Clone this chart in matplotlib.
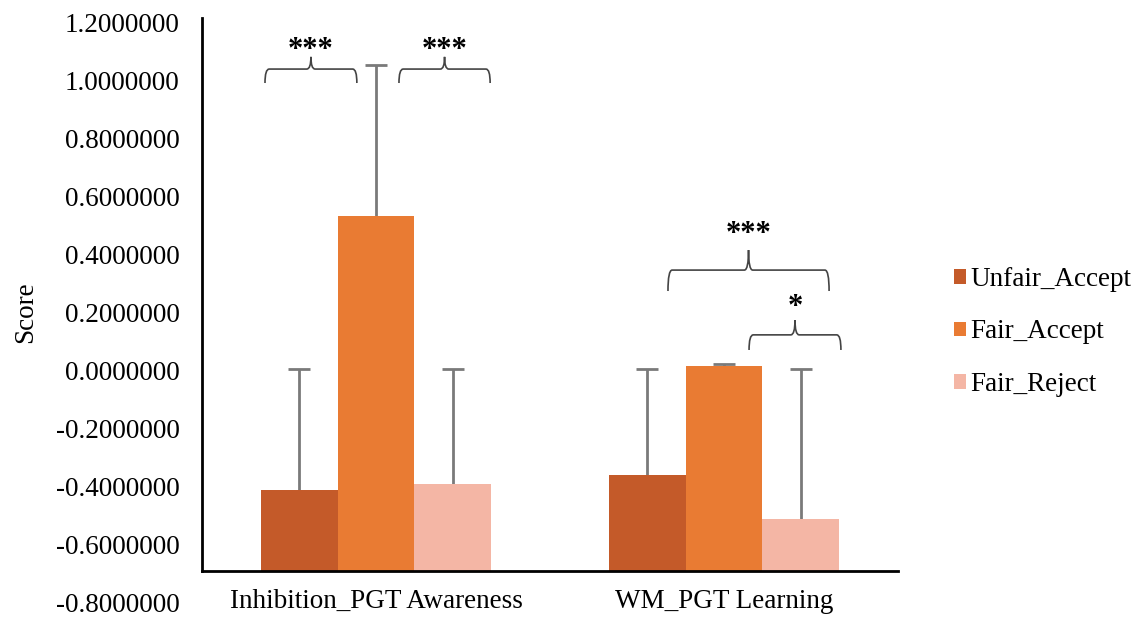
import matplotlib.pyplot as plt
from matplotlib.path import Path
from matplotlib.patches import PathPatch, Patch
import numpy as np

groups = ['Inhibition_PGT Awareness', 'WM_PGT Learning']
series_names = ['Unfair_Accept', 'Fair_Accept', 'Fair_Reject']
unfair_accept = [-0.412, -0.360]
fair_accept = [0.533, 0.016]
fair_reject = [-0.389, -0.511]
unfair_accept_err = [0.417, 0.365]
fair_accept_err = [0.519, 0.007]
fair_reject_err = [0.394, 0.516]
yticks = [-0.8, -0.6, -0.4, -0.2, 0.0, 0.2, 0.4, 0.6, 0.8, 1.0, 1.2]

# significance braces: x0, x1, flat level, end level, tip level, star level, label
braces = [
    (-0.319, -0.055, 1.038, 0.990, 1.080, 1.128, '***'),
    (0.066, 0.328, 1.038, 0.990, 1.080, 1.128, '***'),
    (0.839, 1.302, 0.346, 0.274, 0.415, 0.494, '***'),
    (1.072, 1.336, 0.123, 0.071, 0.174, 0.243, '*'),
]

colors = ['#C45A29', '#E97B33', '#F4B6A5']
floor = -0.69

plt.rcParams['font.family'] = ['Liberation Serif', 'DejaVu Serif']

fig = plt.figure(figsize=(11.33, 6.17), dpi=100)
ax = fig.add_axes([202 / 1133, 1 - 603 / 617, 696 / 1133, 581 / 617])

ax.spines['top'].set_visible(False)
ax.spines['right'].set_visible(False)
ax.spines['bottom'].set_position(('data', floor))
ax.spines['left'].set_bounds(floor, 1.215)
for s in ['left', 'bottom']:
    ax.spines[s].set_linewidth(2)

x = np.arange(len(groups))
width = 0.221
values = [unfair_accept, fair_accept, fair_reject]
errs = [unfair_accept_err, fair_accept_err, fair_reject_err]
for i in range(3):
    pos = x + (i - 1) * width
    vals = np.array(values[i])
    ax.bar(pos, vals - floor, width, bottom=floor, color=colors[i], zorder=2)
    eb = ax.errorbar(pos, vals, yerr=[np.zeros(len(vals)), errs[i]], fmt='none',
                     ecolor='#7a7a7a', elinewidth=2, capsize=8, capthick=2, zorder=1)
    eb[1][0].set_visible(False)

ax.set_xlim(-0.5, 1.5)
ax.set_ylim(-0.8, 1.2)
ax.set_yticks(yticks)
ax.set_yticklabels(['%.7f' % v for v in yticks])
ax.set_xticks(x)
ax.set_xticklabels(groups)
ax.tick_params(axis='both', length=0, labelsize=19.5)
ax.tick_params(axis='y', pad=16)
ax.tick_params(axis='x', pad=13)
ax.set_ylabel('Score', fontsize=19.5, labelpad=13)


def draw_brace(x0, x1, yf, ye, yt, ys, label):
    xm = (x0 + x1) / 2
    r = 0.012
    verts = [(x0, ye), (x0, yf), (x0 + r, yf),
             (xm - r, yf), (xm, yf), (xm, yt),
             (xm, yf), (xm + r, yf),
             (x1 - r, yf), (x1, yf), (x1, ye)]
    codes = [Path.MOVETO, Path.CURVE3, Path.CURVE3,
             Path.LINETO, Path.CURVE3, Path.CURVE3,
             Path.CURVE3, Path.CURVE3,
             Path.LINETO, Path.CURVE3, Path.CURVE3]
    ax.add_patch(PathPatch(Path(verts, codes), fill=False, edgecolor='#444444',
                           lw=1.2, zorder=3, clip_on=False))
    # asterisk glyph sits high in the em box, so place its baseline lower
    ax.text(xm, ys - 15 / 290.5, label, ha='center', va='baseline', fontsize=22,
            fontweight='bold', zorder=3)


for b in braces:
    draw_brace(*b)

handles = [Patch(facecolor=c, edgecolor='none') for c in colors]
fig.legend(handles, series_names, loc='center left',
           bbox_to_anchor=(954 / 1133, 1 - 332 / 617), frameon=False,
           fontsize=19.5, handlelength=0.45, handleheight=0.45,
           handletextpad=0.15, labelspacing=1.02, borderaxespad=0,
           borderpad=0)

fig.savefig('out.png', dpi=100)
